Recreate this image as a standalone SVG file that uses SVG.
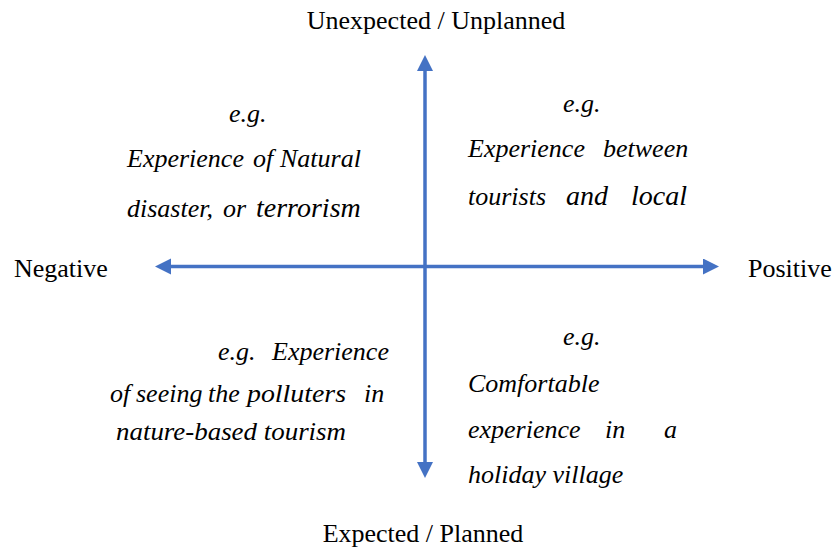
<svg xmlns="http://www.w3.org/2000/svg" width="835" height="550" viewBox="0 0 835 550">
  <style>
    .axis { stroke: #4472C4; stroke-width: 3.5; fill: none; }
    .lbl { font-family: "Liberation Serif", "Times New Roman", serif; font-size: 26px; fill: #000; }
    .note { font-family: "Liberation Serif", "Times New Roman", serif; font-size: 26px; font-style: italic; fill: #000; }
    .big { font-size: 28px; }
  </style>
  <defs>
    <marker id="ah" markerUnits="userSpaceOnUse" markerWidth="17" markerHeight="17" viewBox="0 0 17 17" refX="1" refY="8" orient="auto-start-reverse">
      <path d="M0,0 L16,8 L0,16 z" fill="#4472C4"/>
    </marker>
  </defs>
  <rect width="835" height="550" fill="#ffffff"/>
  <g id="connectors">
    <line class="axis" x1="170" y1="266.5" x2="704" y2="266.5" marker-start="url(#ah)" marker-end="url(#ah)"/>
    <line class="axis" x1="425" y1="70" x2="425" y2="463" marker-start="url(#ah)" marker-end="url(#ah)"/>
  </g>
  <g id="label-top"><text class="lbl" x="436" y="29" text-anchor="middle">Unexpected / Unplanned</text></g>
  <g id="label-bottom"><text class="lbl" x="423" y="542" text-anchor="middle">Expected / Planned</text></g>
  <g id="label-left"><text class="lbl" x="14" y="277">Negative</text></g>
  <g id="label-right"><text class="lbl" x="748" y="277">Positive</text></g>
  <g id="quad-top-left">
    <text class="note" x="229" y="122">e.g.</text>
    <text class="note" y="167"><tspan x="127">Experience</tspan><tspan x="253">of</tspan><tspan x="280">Natural</tspan></text>
    <text class="note" y="217"><tspan x="127">disaster,</tspan><tspan x="223">or</tspan><tspan class="big" x="256">terrorism</tspan></text>
  </g>
  <g id="quad-top-right">
    <text class="note" x="563" y="112">e.g.</text>
    <text class="note" y="157"><tspan x="468">Experience</tspan><tspan x="603">between</tspan></text>
    <text class="note" y="205"><tspan x="468">tourists</tspan><tspan class="big" x="566">and</tspan><tspan class="big" x="631">local</tspan></text>
  </g>
  <g id="quad-bottom-left">
    <text class="note" y="360"><tspan x="218">e.g.</tspan><tspan x="272">Experience</tspan></text>
    <text class="note" y="402"><tspan x="110">of</tspan><tspan x="136">seeing</tspan><tspan x="208">the</tspan><tspan x="247" textLength="99" lengthAdjust="spacingAndGlyphs">polluters</tspan><tspan x="364">in</tspan></text>
    <text class="note" x="116" y="440" textLength="230" lengthAdjust="spacingAndGlyphs">nature-based tourism</text>
  </g>
  <g id="quad-bottom-right">
    <text class="note" x="563" y="345">e.g.</text>
    <text class="note" x="468" y="392">Comfortable</text>
    <text class="note" y="438"><tspan x="468">experience</tspan><tspan x="605">in</tspan><tspan x="664">a</tspan></text>
    <text class="note" x="468" y="483">holiday village</text>
  </g>
</svg>
